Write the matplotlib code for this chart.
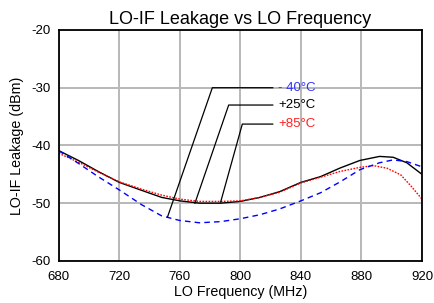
import numpy as np
import matplotlib
matplotlib.use("Agg")
import matplotlib.pyplot as plt

plt.rcParams['font.family'] = ['Liberation Sans', 'DejaVu Sans']
plt.rcParams['axes.unicode_minus'] = False

# data
freq_25 = [680, 693, 706, 720, 735, 748, 760, 773, 787, 800, 813, 826, 840,
           853, 866, 879, 892, 901, 910, 920]
leak_25 = [-40.9, -42.6, -44.5, -46.4, -47.8, -49.0, -49.6, -50.0, -50.0, -49.7,
           -49.0, -48.0, -46.4, -45.4, -43.9, -42.6, -41.9, -42.05, -43.0, -45.0]

freq_85 = [680, 693, 706, 720, 735, 748, 760, 773, 787, 800, 813, 826, 840,
           853, 866, 879, 888, 897, 906, 913, 920]
leak_85 = [-41.35, -42.9, -44.6, -46.3, -47.6, -48.6, -49.3, -49.7, -49.7, -49.6,
           -49.0, -48.1, -46.5, -45.5, -44.5, -43.8, -43.5, -43.95, -45.1, -47.1, -49.3]

freq_m40 = [680, 693, 706, 720, 735, 748, 760, 773, 787, 800, 813, 826, 840,
            853, 866, 879, 892, 901, 910, 920]
leak_m40 = [-40.9, -43.1, -45.4, -47.7, -50.3, -52.2, -53.0, -53.4, -53.2, -52.7,
            -52.0, -51.0, -49.6, -48.2, -46.3, -44.2, -43.0, -42.5, -42.8, -43.7]

labels = ['- 40°C', '+25°C', '+85°C']
label_colors = ['#3333ff', 'black', '#ff2020']
# leader lines: point on curve, elbow, end of the horizontal part
leader_tip = [(752, -52.3), (770, -50.0), (787, -49.8)]
leader_elbow = [(781.5, -30.0), (792.3, -33.0), (801.3, -36.3)]
leader_end_x = 821.4

fig, ax = plt.subplots(figsize=(4.35, 3.03), dpi=100)
fig.subplots_adjust(left=0.135, right=0.97, bottom=0.139, top=0.901)

ax.plot(freq_25, leak_25, color='black', lw=1.0)
ax.plot(freq_85, leak_85, color='red', lw=1.0, linestyle=(0, (1.2, 1.0)))
ax.plot(freq_m40, leak_m40, color='blue', lw=1.0, linestyle=(0, (4, 3)))

for tip, elbow, lab, col in zip(leader_tip, leader_elbow, labels, label_colors):
    ax.plot([tip[0], elbow[0], leader_end_x], [tip[1], elbow[1], elbow[1]],
            color='black', lw=0.9)
    ax.text(leader_end_x + 3.5, elbow[1], lab, color=col, fontsize=9.5,
            va='center', ha='left')

ax.set_xlim(680, 920)
ax.set_ylim(-60, -20)
ax.set_xticks(np.arange(680, 921, 40))
ax.set_yticks(np.arange(-60, -19, 10))
ax.grid(True, color='#b8b8b8', lw=1.4)
ax.tick_params(length=0, labelsize=9.5)
ax.tick_params(axis='x', pad=7)
ax.tick_params(axis='y', pad=6)
for s in ax.spines.values():
    s.set_color('black')
    s.set_linewidth(1.3)

ax.set_xlabel('LO Frequency (MHz)', fontsize=10.3, labelpad=2)
ax.set_ylabel('LO-IF Leakage (dBm)', fontsize=10.3, labelpad=5)
ax.set_title('LO-IF Leakage vs LO Frequency', fontsize=13, pad=4)

fig.savefig('out.png', dpi=100)
